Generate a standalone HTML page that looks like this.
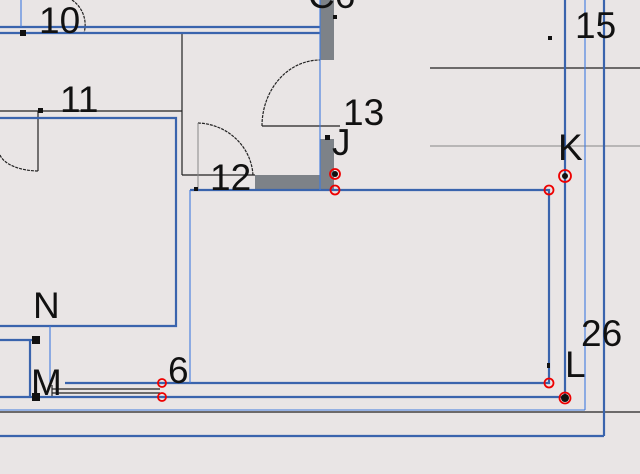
<!DOCTYPE html>
<html><head><meta charset="utf-8"><style>html,body{margin:0;padding:0;background:#e9e5e5}svg{display:block}text{font-family:"Liberation Sans",sans-serif;fill:#111;font-size:37px}</style></head><body>
<svg width="640" height="474" viewBox="0 0 640 474">
<rect width="640" height="474" fill="#e9e5e5"/>
<rect x="320" y="0" width="14" height="60" fill="#7d8288"/>
<rect x="320" y="139" width="14" height="51" fill="#7d8288"/>
<rect x="255" y="175" width="79" height="15" fill="#7d8288"/>
<g stroke="#222" stroke-width="1.2" fill="none">
<line x1="182" y1="34" x2="182" y2="175"/>
<line x1="182" y1="175" x2="255" y2="175"/>
<line x1="0" y1="111" x2="182" y2="111"/>
<line x1="38" y1="111" x2="38" y2="171"/>
<line x1="262" y1="126" x2="340" y2="126"/>
<line x1="430" y1="68" x2="640" y2="68"/>
<line x1="0" y1="412" x2="640" y2="412"/>
<line x1="52" y1="389" x2="160" y2="389"/>
<line x1="52" y1="393" x2="160" y2="393"/>
<line x1="52" y1="385" x2="52" y2="398"/>
<path d="M262 126 A58 66 0 0 1 320 60" stroke-dasharray="3 1"/>
<path d="M198 123 A57 55 0 0 1 253 176" stroke-dasharray="3 1"/>
<path d="M0 155 A40 20 0 0 0 38 171" stroke-dasharray="3 1"/>
<path d="M72 0 A30 30 0 0 1 84 33" stroke-dasharray="3 1"/>
</g>
<line x1="430" y1="146" x2="640" y2="146" stroke="#888" stroke-width="1"/>
<line x1="198" y1="123" x2="198" y2="190" stroke="#888" stroke-width="1"/>
<g stroke="#3a64ad" stroke-width="2.2" fill="none">
<line x1="0" y1="27" x2="320" y2="27"/>
<line x1="0" y1="33" x2="320" y2="33"/>
<polyline points="0,118 176,118 176,326 0,326"/>
<polyline points="190,190 549,190 549,383 65,383"/>
<line x1="0" y1="397" x2="565" y2="397"/>
<line x1="565" y1="0" x2="565" y2="397"/>
<line x1="604" y1="0" x2="604" y2="436"/>
<line x1="0" y1="436" x2="604" y2="436"/>
<line x1="0" y1="340" x2="36" y2="340"/>
<line x1="30" y1="340" x2="30" y2="397"/>
</g>
<g stroke="#3f7be0" stroke-width="1.1" fill="none">
<line x1="21" y1="0" x2="21" y2="27"/>
<line x1="320" y1="0" x2="320" y2="190"/>
<line x1="190" y1="190" x2="190" y2="383"/>
<line x1="585" y1="0" x2="585" y2="410"/>
<line x1="0" y1="410" x2="585" y2="410"/>
<line x1="50" y1="326" x2="50" y2="383"/>
</g>
<g fill="#111">
<rect x="20" y="30" width="6" height="6"/>
<rect x="38" y="108" width="5" height="5"/>
<rect x="333" y="15" width="4" height="4"/>
<rect x="325" y="135" width="5" height="5"/>
<rect x="194" y="187" width="4" height="4"/>
<rect x="548" y="36" width="4" height="4"/>
<rect x="32" y="336" width="8" height="8"/>
<rect x="32" y="393" width="8" height="8"/>
<rect x="547" y="363" width="3" height="5"/>
<circle cx="335" cy="174" r="3"/><circle cx="565" cy="176" r="3"/><circle cx="565" cy="398" r="4"/>
</g>
<g stroke="#e00" stroke-width="1.8" fill="none">
<circle cx="335" cy="174" r="5"/><circle cx="335" cy="190" r="4.5"/>
<circle cx="549" cy="190" r="4.5"/><circle cx="565" cy="176" r="6"/>
<circle cx="162" cy="383" r="4"/><circle cx="162" cy="397" r="4"/>
<circle cx="549" cy="383" r="4.5"/><circle cx="565" cy="398" r="5.5"/>
</g>
<text x="39" y="33">10</text>
<text x="60" y="112">11</text>
<text x="210" y="190">12</text>
<text x="343" y="125">13</text>
<text x="332" y="155">J</text>
<text x="558" y="160">K</text>
<text x="575" y="38">15</text>
<text x="33" y="318">N</text>
<text x="31" y="395">M</text>
<text x="168" y="383">6</text>
<text x="565" y="377">L</text>
<text x="581" y="346">26</text>
<text x="308" y="8">C6</text>
</svg>
</body></html>
